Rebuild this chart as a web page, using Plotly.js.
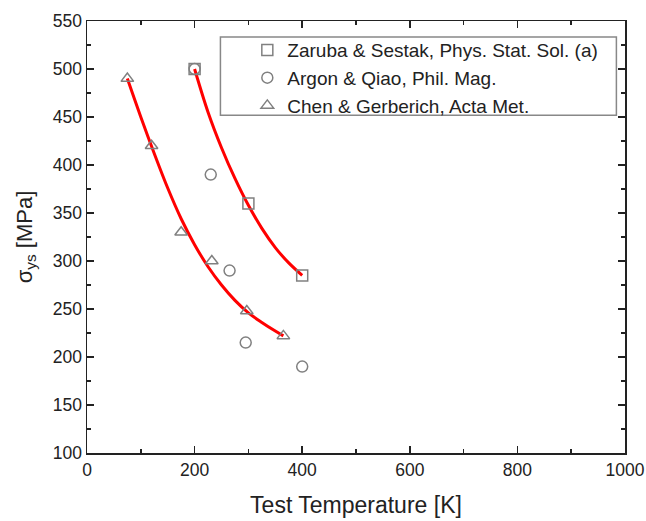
<!DOCTYPE html>
<html><head><meta charset="utf-8">
<script src="https://cdn.plot.ly/plotly-3.0.1.min.js"></script>
<style>body{margin:0;background:#fff}#c{width:646px;height:521px}</style>
</head><body><div id="c"></div>
<script>
const zarubaT = [200, 300, 400];
const zarubaS = [500, 360, 285];
const argonT = [200, 230, 265, 295, 400];
const argonS = [500, 390, 290, 215, 190];
const chenT = [75, 120, 175, 232, 297, 365];
const chenS = [490, 420, 330, 300, 248, 222];
const fit1T = [200, 225, 250, 275, 300, 325, 350, 375, 400];
const fit1S = [500, 455, 418, 386, 358, 334, 314, 298, 285];
const fit2T = [75, 100, 125, 150, 175, 200, 225, 250, 275, 300, 325, 350, 365];
const fit2S = [490, 450, 412, 376, 344, 317, 294, 275, 259, 246, 236, 227, 222];
const names = ['Zaruba & Sestak, Phys. Stat. Sol. (a)', 'Argon & Qiao, Phil. Mag.', 'Chen & Gerberich, Acta Met.'];

const gray = '#808080';
const fam = 'Liberation Sans, Arial, sans-serif';
const mk = s => ({symbol: s, size: 11, color: gray, line: {color: gray, width: 1.5}});
const data = [
  {x: fit1T, y: fit1S, mode: 'lines', line: {color: '#ff0000', width: 3, shape: 'spline'}, showlegend: false, hoverinfo: 'skip'},
  {x: fit2T, y: fit2S, mode: 'lines', line: {color: '#ff0000', width: 3, shape: 'spline'}, showlegend: false, hoverinfo: 'skip'},
  {x: zarubaT, y: zarubaS, mode: 'markers', name: names[0], marker: mk('square-open')},
  {x: argonT, y: argonS, mode: 'markers', name: names[1], marker: mk('circle-open')},
  {x: chenT, y: chenS, mode: 'markers', name: names[2], marker: mk('triangle-up-open')}
];
const axBase = {showgrid: false, zeroline: false, showline: true, linecolor: '#222', linewidth: 1.5, mirror: 'allticks',
  ticks: 'inside', ticklen: 7, tickwidth: 1.5, tickcolor: '#222', ticklabeloverflow: 'allow',
  tickfont: {family: fam, size: 17.5, color: '#222'}};
const layout = {
  width: 646, height: 521,
  margin: {l: 87, r: 21, t: 21, b: 68},
  paper_bgcolor: '#fff', plot_bgcolor: '#fff',
  font: {family: fam, color: '#222'},
  xaxis: Object.assign({}, axBase, {range: [0, 1000], dtick: 200, tick0: 0,
    minor: {ticks: 'inside', dtick: 100, ticklen: 4, tickwidth: 1.5, tickcolor: '#222'},
    title: {text: 'Test Temperature [K]', font: {family: fam, size: 23, color: '#222'}, standoff: 18}}),
  yaxis: Object.assign({}, axBase, {range: [100, 550], dtick: 50, tick0: 100,
    minor: {ticks: 'inside', dtick: 25, ticklen: 4, tickwidth: 1.5, tickcolor: '#222'},
    title: {text: 'σ<sub>ys</sub> [MPa]', font: {family: fam, size: 22, color: '#222'}, standoff: 14}}),
  legend: {x: 0.298, y: 0.9765, xanchor: 'left', yanchor: 'top', borderwidth: 0,
    bgcolor: 'rgba(0,0,0,0)', font: {family: fam, size: 19, color: '#222'}},
  shapes: [{type: 'rect', xref: 'paper', yref: 'paper', x0: 0.248, x1: 0.984, y0: 0.782, y1: 0.963,
    line: {color: '#888', width: 1.5}, fillcolor: 'rgba(0,0,0,0)'}],
  showlegend: true
};
Plotly.newPlot('c', data, layout, {displayModeBar: false, staticPlot: true});
</script></body></html>
